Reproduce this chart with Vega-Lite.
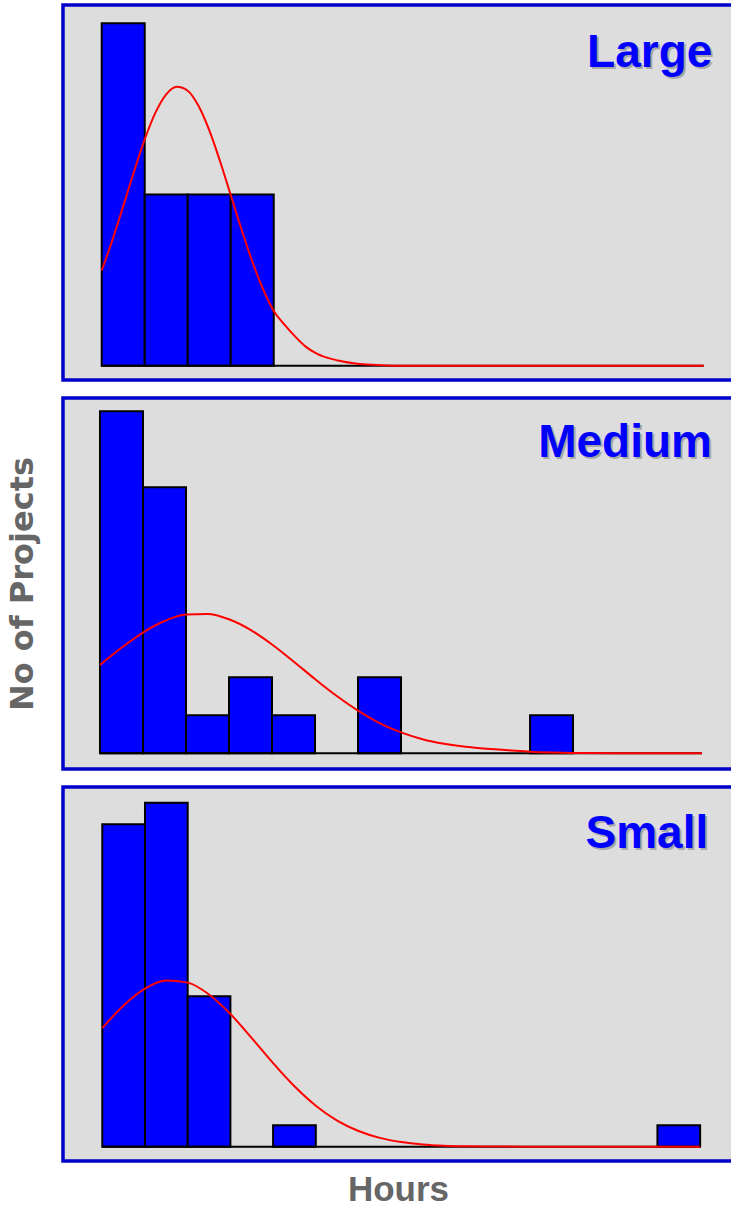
{
  "$schema": "https://vega.github.io/schema/vega-lite/v6.json",
  "background": "#ffffff",
  "padding": {"left": 4, "top": 3, "right": 0, "bottom": 0},
  "spacing": 14,
  "config": {
    "view": {"stroke": "#0000cc", "strokeWidth": 3.5, "fill": "#dddddd"},
    "axis": {"labels": false, "ticks": false, "domain": false, "grid": false}
  },
  "datasets": {
    "bars": [
      {"panel": "Large", "bin_start": 0, "bin_end": 1, "count": 2},
      {"panel": "Large", "bin_start": 1, "bin_end": 2, "count": 1},
      {"panel": "Large", "bin_start": 2, "bin_end": 3, "count": 1},
      {"panel": "Large", "bin_start": 3, "bin_end": 4, "count": 1},
      {"panel": "Medium", "bin_start": 0, "bin_end": 1, "count": 9},
      {"panel": "Medium", "bin_start": 1, "bin_end": 2, "count": 7},
      {"panel": "Medium", "bin_start": 2, "bin_end": 3, "count": 1},
      {"panel": "Medium", "bin_start": 3, "bin_end": 4, "count": 2},
      {"panel": "Medium", "bin_start": 4, "bin_end": 5, "count": 1},
      {"panel": "Medium", "bin_start": 6, "bin_end": 7, "count": 2},
      {"panel": "Medium", "bin_start": 10, "bin_end": 11, "count": 1},
      {"panel": "Small", "bin_start": 0, "bin_end": 1, "count": 15},
      {"panel": "Small", "bin_start": 1, "bin_end": 2, "count": 16},
      {"panel": "Small", "bin_start": 2, "bin_end": 3, "count": 7},
      {"panel": "Small", "bin_start": 4, "bin_end": 5, "count": 1},
      {"panel": "Small", "bin_start": 13, "bin_end": 14, "count": 1}
    ],
    "curve": [
      {"panel": "Large", "x": 0, "y": 0.556},
      {"panel": "Large", "x": 0.25, "y": 0.735},
      {"panel": "Large", "x": 0.5, "y": 0.932},
      {"panel": "Large", "x": 0.75, "y": 1.133},
      {"panel": "Large", "x": 1, "y": 1.322},
      {"panel": "Large", "x": 1.25, "y": 1.478},
      {"panel": "Large", "x": 1.5, "y": 1.585},
      {"panel": "Large", "x": 1.75, "y": 1.629},
      {"panel": "Large", "x": 2, "y": 1.606},
      {"panel": "Large", "x": 2.25, "y": 1.518},
      {"panel": "Large", "x": 2.5, "y": 1.376},
      {"panel": "Large", "x": 2.75, "y": 1.196},
      {"panel": "Large", "x": 3, "y": 0.997},
      {"panel": "Large", "x": 3.25, "y": 0.797},
      {"panel": "Large", "x": 3.5, "y": 0.61},
      {"panel": "Large", "x": 3.75, "y": 0.448},
      {"panel": "Large", "x": 4, "y": 0.32},
      {"panel": "Large", "x": 4.25, "y": 0.24},
      {"panel": "Large", "x": 4.5, "y": 0.17},
      {"panel": "Large", "x": 4.75, "y": 0.11},
      {"panel": "Large", "x": 5, "y": 0.07},
      {"panel": "Large", "x": 5.5, "y": 0.03},
      {"panel": "Large", "x": 6, "y": 0.01},
      {"panel": "Large", "x": 6.5, "y": 0.003},
      {"panel": "Large", "x": 7, "y": 0},
      {"panel": "Large", "x": 8, "y": 0},
      {"panel": "Large", "x": 10, "y": 0},
      {"panel": "Large", "x": 12, "y": 0},
      {"panel": "Large", "x": 14, "y": 0},
      {"panel": "Medium", "x": 0, "y": 2.325},
      {"panel": "Medium", "x": 0.5, "y": 2.778},
      {"panel": "Medium", "x": 1, "y": 3.178},
      {"panel": "Medium", "x": 1.5, "y": 3.481},
      {"panel": "Medium", "x": 2, "y": 3.651},
      {"panel": "Medium", "x": 2.5, "y": 3.667},
      {"panel": "Medium", "x": 3, "y": 3.527},
      {"panel": "Medium", "x": 3.5, "y": 3.248},
      {"panel": "Medium", "x": 4, "y": 2.864},
      {"panel": "Medium", "x": 4.5, "y": 2.418},
      {"panel": "Medium", "x": 5, "y": 1.954},
      {"panel": "Medium", "x": 5.5, "y": 1.513},
      {"panel": "Medium", "x": 6, "y": 1.122},
      {"panel": "Medium", "x": 6.5, "y": 0.796},
      {"panel": "Medium", "x": 7, "y": 0.55},
      {"panel": "Medium", "x": 7.5, "y": 0.37},
      {"panel": "Medium", "x": 8, "y": 0.25},
      {"panel": "Medium", "x": 8.5, "y": 0.17},
      {"panel": "Medium", "x": 9, "y": 0.12},
      {"panel": "Medium", "x": 9.5, "y": 0.08},
      {"panel": "Medium", "x": 10, "y": 0.04},
      {"panel": "Medium", "x": 10.5, "y": 0.02},
      {"panel": "Medium", "x": 11, "y": 0.01},
      {"panel": "Medium", "x": 12, "y": 0},
      {"panel": "Medium", "x": 13, "y": 0},
      {"panel": "Medium", "x": 14, "y": 0},
      {"panel": "Small", "x": 0, "y": 5.516},
      {"panel": "Small", "x": 0.5, "y": 6.569},
      {"panel": "Small", "x": 1, "y": 7.352},
      {"panel": "Small", "x": 1.5, "y": 7.728},
      {"panel": "Small", "x": 2, "y": 7.632},
      {"panel": "Small", "x": 2.5, "y": 7.081},
      {"panel": "Small", "x": 3, "y": 6.171},
      {"panel": "Small", "x": 3.5, "y": 5.053},
      {"panel": "Small", "x": 4, "y": 3.886},
      {"panel": "Small", "x": 4.5, "y": 2.808},
      {"panel": "Small", "x": 5, "y": 1.906},
      {"panel": "Small", "x": 5.5, "y": 1.215},
      {"panel": "Small", "x": 6, "y": 0.728},
      {"panel": "Small", "x": 6.5, "y": 0.41},
      {"panel": "Small", "x": 7, "y": 0.216},
      {"panel": "Small", "x": 7.5, "y": 0.108},
      {"panel": "Small", "x": 8, "y": 0.05},
      {"panel": "Small", "x": 8.5, "y": 0.022},
      {"panel": "Small", "x": 9, "y": 0.009},
      {"panel": "Small", "x": 10, "y": 0.001},
      {"panel": "Small", "x": 11, "y": 0},
      {"panel": "Small", "x": 12, "y": 0},
      {"panel": "Small", "x": 13, "y": 0},
      {"panel": "Small", "x": 14, "y": 0}
    ]
  },
  "vconcat": [
    {
      "width": 670,
      "height": 375,
      "layer": [
        {
          "data": {"name": "bars"},
          "transform": [{"filter": "datum.panel === 'Large'"}],
          "mark": {"type": "bar", "color": "#0000ff", "stroke": "#000000", "strokeWidth": 2},
          "encoding": {
            "x": {"field": "bin_start", "type": "quantitative", "title": null, "scale": {"domain": [-0.9, 14.68], "nice": false, "zero": false}},
            "x2": {"field": "bin_end"},
            "y": {"field": "count", "type": "quantitative", "title": null, "scale": {"domain": [-0.0835, 2.107], "nice": false, "zero": false}},
            "y2": {"datum": 0}
          }
        },
        {
          "data": {"values": [{}]},
          "mark": {"type": "rule", "color": "#000000", "strokeWidth": 2},
          "encoding": {"x": {"datum": 0}, "x2": {"datum": 14}, "y": {"datum": 0}}
        },
        {
          "data": {"name": "curve"},
          "transform": [{"filter": "datum.panel === 'Large'"}],
          "mark": {"type": "line", "color": "#ff0000", "strokeWidth": 2, "interpolate": "monotone"},
          "encoding": {
            "x": {"field": "x", "type": "quantitative", "title": null},
            "y": {"field": "y", "type": "quantitative", "title": null}
          }
        },
        {
          "data": {"values": [{}]},
          "mark": {"type": "text", "font": "Liberation Sans", "fontWeight": "bold", "fontSize": 46, "align": "right", "baseline": "alphabetic", "color": "#a8a8a8", "dx": 2, "dy": 2},
          "encoding": {"x": {"datum": 14.2}, "y": {"datum": 1.745}, "text": {"value": "Large"}}
        },
        {
          "data": {"values": [{}]},
          "mark": {"type": "text", "font": "Liberation Sans", "fontWeight": "bold", "fontSize": 46, "align": "right", "baseline": "alphabetic", "color": "#0000ff"},
          "encoding": {"x": {"datum": 14.2}, "y": {"datum": 1.745}, "text": {"value": "Large"}}
        }
      ]
    },
    {
      "width": 670,
      "height": 371,
      "layer": [
        {
          "data": {"name": "bars"},
          "transform": [{"filter": "datum.panel === 'Medium'"}],
          "mark": {"type": "bar", "color": "#0000ff", "stroke": "#000000", "strokeWidth": 2},
          "encoding": {
            "x": {"field": "bin_start", "type": "quantitative", "title": null, "scale": {"domain": [-0.86, 14.72], "nice": false, "zero": false}},
            "x2": {"field": "bin_end"},
            "y": {"field": "count", "type": "quantitative", "title": "No of Projects", "scale": {"domain": [-0.413, 9.35], "nice": false, "zero": false},
                  "axis": {"titleFont": "DejaVu Sans", "titleFontSize": 32, "titleFontWeight": "bold", "titleColor": "#666666", "titlePadding": 24}},
            "y2": {"datum": 0}
          }
        },
        {
          "data": {"values": [{}]},
          "mark": {"type": "rule", "color": "#000000", "strokeWidth": 2},
          "encoding": {"x": {"datum": 0}, "x2": {"datum": 14}, "y": {"datum": 0}}
        },
        {
          "data": {"name": "curve"},
          "transform": [{"filter": "datum.panel === 'Medium'"}],
          "mark": {"type": "line", "color": "#ff0000", "strokeWidth": 2, "interpolate": "monotone"},
          "encoding": {
            "x": {"field": "x", "type": "quantitative", "title": null},
            "y": {"field": "y", "type": "quantitative", "title": "No of Projects"}
          }
        },
        {
          "data": {"values": [{}]},
          "mark": {"type": "text", "font": "Liberation Sans", "fontWeight": "bold", "fontSize": 46, "align": "right", "baseline": "alphabetic", "color": "#a8a8a8", "dx": 2, "dy": 2},
          "encoding": {"x": {"datum": 14.23}, "y": {"datum": 7.8}, "text": {"value": "Medium"}}
        },
        {
          "data": {"values": [{}]},
          "mark": {"type": "text", "font": "Liberation Sans", "fontWeight": "bold", "fontSize": 46, "align": "right", "baseline": "alphabetic", "color": "#0000ff"},
          "encoding": {"x": {"datum": 14.23}, "y": {"datum": 7.8}, "text": {"value": "Medium"}}
        }
      ]
    },
    {
      "width": 670,
      "height": 374,
      "layer": [
        {
          "data": {"name": "bars"},
          "transform": [{"filter": "datum.panel === 'Small'"}],
          "mark": {"type": "bar", "color": "#0000ff", "stroke": "#000000", "strokeWidth": 2},
          "encoding": {
            "x": {"field": "bin_start", "type": "quantitative", "title": "Hours", "scale": {"domain": [-0.92, 14.77], "nice": false, "zero": false},
                  "axis": {"titleFont": "Liberation Sans", "titleFontSize": 35, "titleFontWeight": "bold", "titleColor": "#666666", "titlePadding": 11}},
            "x2": {"field": "bin_end"},
            "y": {"field": "count", "type": "quantitative", "title": null, "scale": {"domain": [-0.665, 16.73], "nice": false, "zero": false}},
            "y2": {"datum": 0}
          }
        },
        {
          "data": {"values": [{}]},
          "mark": {"type": "rule", "color": "#000000", "strokeWidth": 2},
          "encoding": {"x": {"datum": 0}, "x2": {"datum": 14}, "y": {"datum": 0}}
        },
        {
          "data": {"name": "curve"},
          "transform": [{"filter": "datum.panel === 'Small'"}],
          "mark": {"type": "line", "color": "#ff0000", "strokeWidth": 2, "interpolate": "monotone"},
          "encoding": {
            "x": {"field": "x", "type": "quantitative", "title": "Hours"},
            "y": {"field": "y", "type": "quantitative", "title": null}
          }
        },
        {
          "data": {"values": [{}]},
          "mark": {"type": "text", "font": "Liberation Sans", "fontWeight": "bold", "fontSize": 46, "align": "right", "baseline": "alphabetic", "color": "#a8a8a8", "dx": 2, "dy": 2},
          "encoding": {"x": {"datum": 14.19}, "y": {"datum": 13.88}, "text": {"value": "Small"}}
        },
        {
          "data": {"values": [{}]},
          "mark": {"type": "text", "font": "Liberation Sans", "fontWeight": "bold", "fontSize": 46, "align": "right", "baseline": "alphabetic", "color": "#0000ff"},
          "encoding": {"x": {"datum": 14.19}, "y": {"datum": 13.88}, "text": {"value": "Small"}}
        }
      ]
    }
  ]
}
